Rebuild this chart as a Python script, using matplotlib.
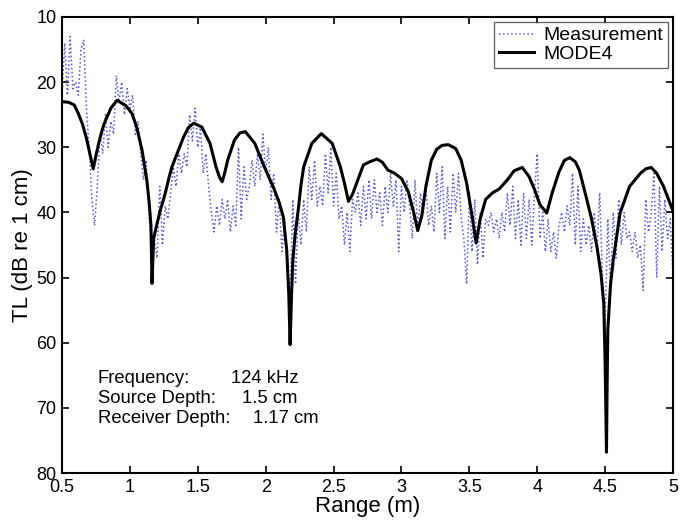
'''TL vs range: measurement vs MODE4'''
import numpy as np
import matplotlib
matplotlib.use('Agg')
import matplotlib.pyplot as plt

plt.rcParams['font.family'] = ['Liberation Sans', 'DejaVu Sans']

# measurement, sampled every 0.02 m from 0.5 to 5.0
meas_x = np.round(np.arange(0.5, 5.0001, 0.02), 2)
meas_tl = [
    22, 14, 22, 13, 21,   20, 22, 15, 13.5, 24,   30, 38, 42, 36, 28,
    31, 25, 30, 26, 28,   19, 23, 20, 25, 21,     24, 22, 28, 26, 31,
    35, 32, 40, 46, 44,   47, 36, 45, 39, 41,     37, 33, 36, 31, 34,
    31, 33, 25, 29, 24,   30, 27, 34, 31, 36,     40, 43, 39, 42, 38,
    41, 38, 43, 39, 42,   30, 41, 33, 38, 36,     32, 36, 31, 35, 28,
    34, 30, 38, 34, 43,   38, 46, 41, 48, 53,     38, 51, 40, 45, 38,
    43, 33, 38, 32, 39,   36, 39, 31, 37, 30,     39, 34, 41, 39, 45,
    40, 46, 38, 40, 37,   42, 36, 41, 35, 41,     35, 40, 37, 42, 36,
    40, 34, 39, 35, 46,   36, 40, 35, 39, 44,     35, 43, 37, 40, 36,
    42, 39, 43, 34, 40,   33, 44, 36, 43, 34,     40, 34, 41, 44, 51,
    37, 46, 38, 48, 40,   47, 41, 42, 40, 43,     41, 44, 40, 43, 37,
    42, 36, 44, 38, 45,   37, 44, 38, 45, 37,     31, 44, 40, 46, 41,
    46, 43, 47, 42, 40,   43, 39, 42, 34, 45,     36, 46, 41, 45, 42,
    46, 40, 46, 37, 50,   57, 41, 52, 40, 47,     38, 45, 40, 44, 43,
    46, 43, 47, 45, 52,   38, 43, 40, 34, 50,     36, 46, 38, 44, 41,
    50,
]

# MODE4 model curve
mode_x = [0.50, 0.55, 0.59, 0.62, 0.65, 0.68, 0.70, 0.73, 0.75, 0.77, 0.79,
          0.81, 0.86, 0.905, 0.97, 1.015, 1.05, 1.09, 1.125, 1.143, 1.155,
          1.163, 1.175, 1.20, 1.224, 1.26, 1.29, 1.31, 1.347, 1.396, 1.43,
          1.47, 1.53, 1.59, 1.634, 1.66, 1.68, 1.70, 1.72, 1.77, 1.81,
          1.85, 1.92, 1.99, 2.06, 2.10, 2.13, 2.155, 2.17, 2.18, 2.19,
          2.20, 2.22, 2.24, 2.26, 2.28, 2.34, 2.41, 2.49, 2.55, 2.58,
          2.61, 2.64, 2.67, 2.72, 2.77, 2.82, 2.86, 2.90, 2.95, 3.00,
          3.05, 3.09, 3.12, 3.15, 3.18, 3.22, 3.26, 3.30, 3.345, 3.40,
          3.44, 3.48, 3.52, 3.55, 3.58, 3.62, 3.67, 3.72, 3.78, 3.83,
          3.89, 3.94, 3.98, 4.02, 4.07, 4.11, 4.16, 4.20, 4.24, 4.28,
          4.31, 4.36, 4.40, 4.44, 4.47, 4.49, 4.50, 4.51, 4.515, 4.52,
          4.54, 4.56, 4.61, 4.68, 4.76, 4.80, 4.84, 4.88, 4.93, 5.00]
mode_tl = [23.0, 23.1, 23.5, 24.8, 26.4, 28.6, 30.5, 33.3, 31.3, 29.4, 27.8,
           26.4, 24.0, 22.8, 23.6, 24.8, 26.9, 30.5, 35.1, 38.7, 42.0,
           50.9, 44.0, 41.7, 39.7, 37.1, 34.5, 33.0, 31.0, 28.4, 27.0,
           26.3, 26.9, 29.4, 33.0, 34.6, 35.3, 33.8, 32.0, 28.9, 27.8,
           27.6, 29.4, 33.0, 36.3, 38.5, 40.7, 45.8, 52.4, 60.3, 53.0,
           47.3, 42.8, 39.6, 35.8, 33.0, 29.4, 27.9, 29.4, 33.0, 35.5,
           38.3, 37.2, 35.5, 32.7, 32.2, 31.8, 32.3, 33.5, 34.0, 34.8,
           36.8, 40.0, 42.8, 40.5, 36.0, 32.0, 30.3, 29.7, 29.6, 30.2,
           32.0, 35.5, 40.5, 44.7, 41.0, 38.0, 37.0, 36.4, 35.0, 33.6,
           33.1, 34.5, 36.5, 38.8, 40.1, 37.0, 33.8, 32.0, 31.6, 32.2,
           33.5, 37.6, 41.0, 45.3, 49.5, 54.0, 63.0, 76.8, 66.0, 58.0,
           51.0, 47.3, 40.1, 36.0, 34.0, 33.3, 33.1, 34.0, 36.0, 39.8]

fig = plt.figure(figsize=(6.85, 5.24), dpi=100)
ax = fig.add_axes([0.0905, 0.0973, 0.892, 0.8703])

ax.plot(meas_x, meas_tl, linestyle=':', color='#5656cc', linewidth=1.1,
        label='Measurement')
ax.plot(mode_x, mode_tl, color='black', linewidth=2.2, label='MODE4')

ax.set_xlim(0.5, 5)
ax.set_ylim(80, 10)
ax.set_xticks(np.arange(0.5, 5.01, 0.5))
ax.set_xticklabels(['0.5', '1', '1.5', '2', '2.5', '3', '3.5', '4', '4.5', '5'])
ax.set_yticks(range(10, 81, 10))
ax.tick_params(direction='in', length=5, width=1.2, top=True, right=True,
               labelsize=13, pad=4)
for s in ax.spines.values():
    s.set_linewidth(1.5)

ax.set_xlabel('Range (m)', fontsize=16, labelpad=0)
ax.set_ylabel('TL (dB re 1 cm)', fontsize=16, labelpad=2)

leg = ax.legend(loc='upper right', fontsize=14, frameon=True, fancybox=False,
                borderaxespad=0.25, handlelength=1.8, borderpad=0.25,
                labelspacing=0.05, handletextpad=0.5)
leg.get_frame().set_edgecolor('#333333')
leg.get_frame().set_linewidth(0.9)

# experiment parameters
lab_y = [65.5, 68.6, 71.6]
labels = ['Frequency:', 'Source Depth:', 'Receiver Depth:']
values = ['124 kHz', '1.5 cm', '1.17 cm']
value_x = [1.745, 1.825, 1.905]
for yy, lab, val, vx in zip(lab_y, labels, values, value_x):
    ax.text(0.765, yy, lab, fontsize=13.3, va='center', ha='left')
    ax.text(vx, yy, val, fontsize=13.3, va='center', ha='left')

fig.savefig('out.png', dpi=100)
